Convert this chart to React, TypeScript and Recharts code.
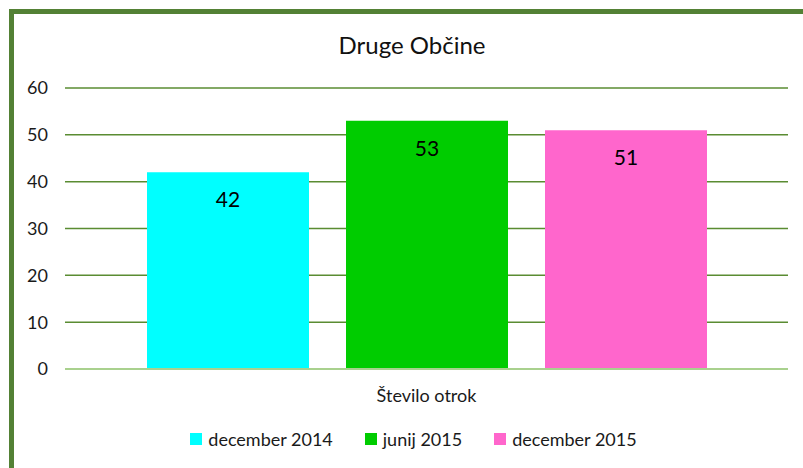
import { Bar, BarChart, CartesianGrid, LabelList, XAxis, YAxis } from "recharts";

const categories = ["Število otrok"];
const seriesNames = ["december 2014", "junij 2015", "december 2015"];
const seriesValues = [42, 53, 51];
const seriesColors = ["#00ffff", "#00cc00", "#ff66cc"];
const yTicks = [0, 10, 20, 30, 40, 50, 60];

const data = categories.map((name) => {
    const row: Record<string, string | number> = { name };
    seriesNames.forEach((s, i) => {
        row[s] = seriesValues[i];
    });
    return row;
});

const font = "Lato, 'Open Sans', sans-serif";

export default function App() {
    return (
        <div
            style={{
                position: "fixed",
                left: 0,
                top: 0,
                width: 803,
                height: 468,
                overflow: "hidden",
                background: "#fff",
                fontFamily: font,
            }}
        >
            <div
                style={{
                    position: "absolute",
                    left: 9,
                    top: 9,
                    width: 820,
                    height: 480,
                    border: "5px solid #538135",
                    boxSizing: "border-box",
                }}
            />
            <div
                style={{
                    position: "absolute",
                    left: 0,
                    top: 33,
                    width: 824,
                    textAlign: "center",
                    fontSize: 24,
                    lineHeight: "24px",
                    color: "#111",
                }}
            >
                Druge Občine
            </div>
            <div style={{ position: "absolute", left: 0, top: 0 }}>
                <BarChart
                    width={803}
                    height={468}
                    data={data}
                    margin={{ top: 88, right: 15, bottom: 69, left: 15 }}
                    barSize={162}
                    barGap={37}
                >
                    <CartesianGrid vertical={false} stroke="#5a8c32" strokeWidth={1.5} />
                    <XAxis
                        dataKey="name"
                        height={30}
                        tickLine={false}
                        tickSize={0}
                        tickMargin={20}
                        axisLine={{ stroke: "#a9d18e", strokeWidth: 2 }}
                        tick={{ fill: "#1a1a1a", fontSize: 18, fontFamily: font }}
                    />
                    <YAxis
                        width={50}
                        domain={[0, 60]}
                        ticks={yTicks}
                        axisLine={false}
                        tickLine={false}
                        tickSize={0}
                        tickMargin={17}
                        tick={{ fill: "#1a1a1a", fontSize: 18, fontFamily: font }}
                    />
                    {seriesNames.map((s, i) => (
                        <Bar key={s} dataKey={s} fill={seriesColors[i]} isAnimationActive={false}>
                            <LabelList
                                dataKey={s}
                                position="insideTop"
                                offset={20}
                                fill="#000"
                                fontSize={21}
                                fontFamily={font}
                            />
                        </Bar>
                    ))}
                </BarChart>
            </div>
            <div
                style={{
                    position: "absolute",
                    left: 12,
                    top: 430,
                    width: 803,
                    display: "flex",
                    justifyContent: "center",
                    fontSize: 18,
                    lineHeight: "18px",
                    color: "#1a1a1a",
                }}
            >
                {seriesNames.map((s, i) => (
                    <div
                        key={s}
                        style={{
                            display: "flex",
                            alignItems: "center",
                            marginRight: i < seriesNames.length - 1 ? 32 : 0,
                        }}
                    >
                        <span
                            style={{
                                display: "inline-block",
                                width: 12,
                                height: 12,
                                background: seriesColors[i],
                                marginRight: 6,
                            }}
                        />
                        {s}
                    </div>
                ))}
            </div>
        </div>
    );
}
